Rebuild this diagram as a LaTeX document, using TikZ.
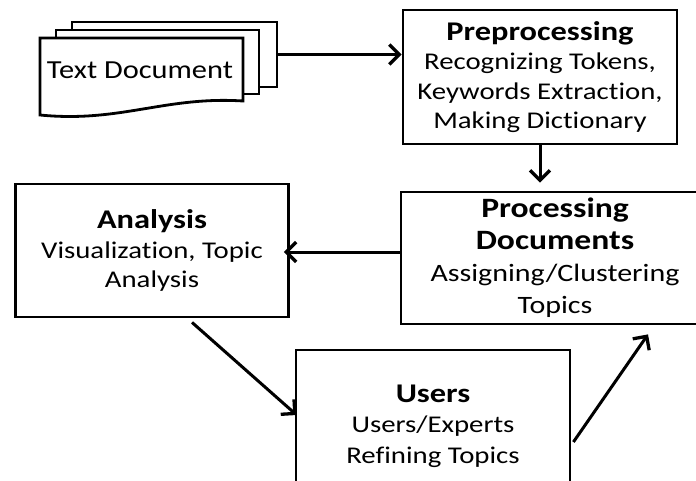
\documentclass[tikz,border=0pt]{standalone}
\usepackage{fontspec}
\setmainfont{Carlito}[FakeStretch=1.2, Ligatures=NoCommon]
\newfontfamily\docfont{Carlito}[FakeStretch=1.17, Ligatures=NoCommon]
\usetikzlibrary{arrows.meta}

% bold box titles, set a little larger than the body lines
\newcommand\boxtitle[2][27]{{\fontsize{#1}{29.5}\selectfont\bfseries #2}}

\begin{document}
\begin{tikzpicture}[x=1pt, y=-1pt,
  box/.style={draw, line width=2.8pt, align=center, inner sep=0pt,
    font=\fontsize{24}{29.5}\selectfont},
  sheet/.style={draw, line width=2.8pt, fill=white},
  flow/.style={line width=3pt,
    -{Straight Barb[length=10pt, width=20pt, line width=3.3pt]}}]
\useasboundingbox (0,0) rectangle (696,481);
\clip (0,0) rectangle (696,481);

% stack of text documents
\node[sheet, minimum width=205pt, minimum height=65pt, inner sep=0pt]
  (doc3) at (174.5,54.5) {};
\node[sheet, minimum width=203pt, minimum height=64pt, inner sep=0pt]
  (doc2) at (157.5,62) {};
\draw[sheet] (40,38) -- (243,38) -- (243,101)
  .. controls (165,96) and (120,123) .. (40,115) -- cycle;
\node[font=\docfont\fontsize{26}{30}\selectfont] (doc) at (140,70) {Text Document};

% process boxes
\node[box, minimum width=274pt, minimum height=134pt] (pre) at (540,77)
  {\boxtitle{Preprocessing}\\Recognizing Tokens,\\Keywords Extraction,\\Making Dictionary};
\node[box, minimum width=308pt, minimum height=132pt,
  font=\fontsize{25}{32}\selectfont] (proc) at (555,258)
  {\boxtitle[28]{Processing}\\\boxtitle[28]{Documents}\\Assigning/Clustering\\Topics};
\node[box, minimum width=273pt, minimum height=133pt] (ana) at (152,250.5)
  {\boxtitle{Analysis}\\Visualization, Topic\\Analysis};
\node[box, minimum width=274pt, minimum height=152pt,
  font=\fontsize{24}{30.5}\selectfont] (users) at (433,426)
  {\boxtitle{Users}\\Users/Experts\\Refining Topics};

% connectors
\draw[flow] (doc3.east) -- (pre.west |- doc3.east);
\draw[flow, shorten >=8pt] (pre.south) -- (pre.south |- proc.north);
\draw[flow, shorten >=-6pt] (proc.west |- 0,252) -- (ana.east |- 0,252);
\draw[flow] ([shift={(40,4)}]ana.south) -- ([shift={(2,-11)}]users.west);
\draw[flow] ([shift={(2,16)}]users.east) -- ([shift={(93,9)}]proc.south);
\end{tikzpicture}
\end{document}
